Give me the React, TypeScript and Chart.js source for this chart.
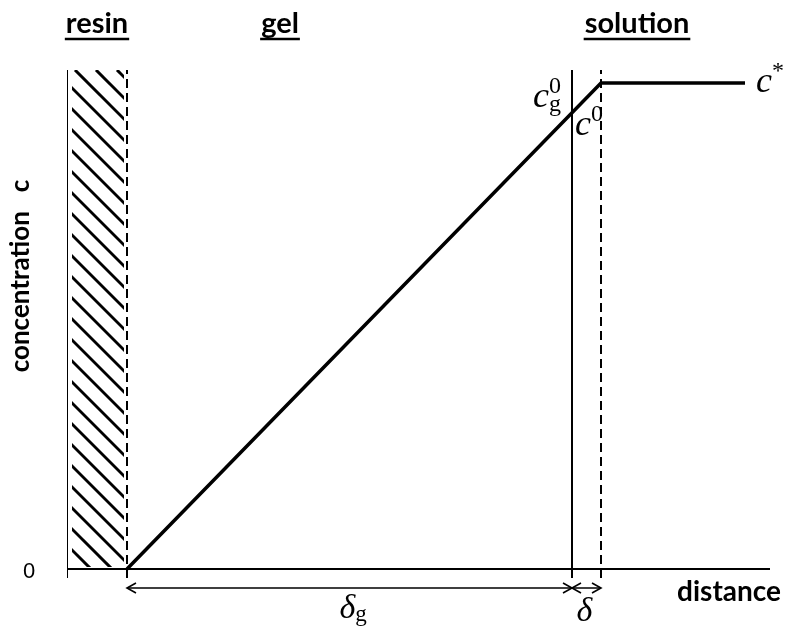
import React, { useEffect, useRef } from "react";
import { Chart, registerables } from "chart.js";

Chart.register(...registerables);

// Distance axis (arbitrary units) and concentration (fraction of c*)
const resinEdge = 6;
const gelEdge = 50.5;
const filmEdge = 53.4;
const xEnd = 70.3;
const profileX = [resinEdge, gelEdge, filmEdge, 67.8];
const profileC = [0, 0.939, 1, 1];
const yMin = -0.0185;
const yMax = 1.027;

const regionLabels = ["resin", "gel", "solution"];
const regionLabelX = [3, 21.3, 57];

const SANS = "Lato, 'Open Sans', sans-serif";
const SERIF = "'Liberation Serif', 'DejaVu Serif', serif";

function arrowHead(ctx: CanvasRenderingContext2D, x: number, y: number, dir: number) {
  ctx.beginPath();
  ctx.moveTo(x - dir * 9, y - 5);
  ctx.lineTo(x, y);
  ctx.lineTo(x - dir * 9, y + 5);
  ctx.stroke();
}

const decorations = {
  id: "decorations",
  afterDatasetsDraw(chart: any) {
    const ctx: CanvasRenderingContext2D = chart.ctx;
    const xs = chart.scales.x;
    const ys = chart.scales.y;
    const px = (v: number) => xs.getPixelForValue(v);
    const py = (v: number) => ys.getPixelForValue(v);

    // hatched resin block
    ctx.save();
    const hx0 = px(0) + 5;
    const hx1 = px(resinEdge) - 3;
    const hy0 = py(yMax);
    const hy1 = py(0) - 2;
    ctx.beginPath();
    ctx.rect(hx0, hy0, hx1 - hx0, hy1 - hy0);
    ctx.clip();
    ctx.strokeStyle = "#000";
    ctx.lineWidth = 3;
    for (let k = -40; k < 40; k++) {
      const sx = hx0 + k * 21 + 3;
      ctx.beginPath();
      ctx.moveTo(sx, hy0);
      ctx.lineTo(sx + 600, hy0 + 600);
      ctx.stroke();
    }
    ctx.restore();

    // dimension arrows under the axis
    ctx.save();
    ctx.strokeStyle = "#000";
    ctx.lineWidth = 1.6;
    const ay = py(0) + 19;
    const a0 = px(resinEdge);
    const a1 = px(gelEdge);
    const a2 = px(filmEdge);
    ctx.beginPath();
    ctx.moveTo(a0, ay);
    ctx.lineTo(a1, ay);
    ctx.moveTo(a1, ay);
    ctx.lineTo(a2, ay);
    ctx.stroke();
    arrowHead(ctx, a0, ay, -1);
    arrowHead(ctx, a1, ay, 1);
    arrowHead(ctx, a1, ay, -1);
    arrowHead(ctx, a2, ay, 1);
    ctx.restore();

    // text
    ctx.save();
    ctx.fillStyle = "#000";
    ctx.strokeStyle = "#000";
    ctx.textBaseline = "alphabetic";

    // region titles, bold and underlined
    ctx.font = `bold 29px ${SANS}`;
    ctx.textAlign = "center";
    regionLabels.forEach((t, i) => {
      const cx = px(regionLabelX[i]);
      ctx.fillText(t, cx, 33);
      const w = ctx.measureText(t).width;
      ctx.lineWidth = 2.5;
      ctx.beginPath();
      ctx.moveTo(cx - w / 2 - 1, 39);
      ctx.lineTo(cx + w / 2 + 1, 39);
      ctx.stroke();
    });

    // axis titles
    ctx.font = `bold 26px ${SANS}`;
    ctx.save();
    ctx.translate(29, 276);
    ctx.rotate(-Math.PI / 2);
    ctx.textAlign = "center";
    ctx.fillText("concentration   c", 0, 0);
    ctx.restore();

    ctx.font = `bold 28px ${SANS}`;
    ctx.textAlign = "right";
    ctx.fillText("distance", 781, 601);

    ctx.font = `22px 'Liberation Sans', sans-serif`;
    ctx.textAlign = "center";
    ctx.fillText("0", 29, 578);

    // symbols
    ctx.textAlign = "left";
    const sym = (base: string, x: number, y: number, sup?: string, sub?: string, size = 36) => {
      ctx.font = `italic ${size}px ${SERIF}`;
      ctx.fillText(base, x, y);
      const w = ctx.measureText(base).width;
      ctx.font = `${Math.round(size * 0.68)}px ${SERIF}`;
      if (sup) ctx.fillText(sup, x + w, y - size * 0.38);
      if (sub) ctx.fillText(sub, x + w, y + size * 0.1);
    };
    sym("c", 533, 107, "0", "g");
    sym("c", px(gelEdge) + 3, 135, "0");
    sym("c", 756, 92, "*");
    sym("δ", px((resinEdge + gelEdge) / 2) - 10, 618, undefined, "g", 34);
    sym("δ", px((gelEdge + filmEdge) / 2) - 10, 621, undefined, undefined, 34);
    ctx.restore();
  },
};

export default function App() {
  const ref = useRef<HTMLCanvasElement>(null);

  useEffect(() => {
    if (!ref.current) return;
    const line = (pts: { x: number; y: number }[], w: number, dash: number[] = []) => ({
      data: pts,
      borderColor: "#000",
      borderWidth: w,
      borderDash: dash,
      pointRadius: 0,
      fill: false,
      tension: 0,
    });
    const vertical = (x: number) => [
      { x, y: yMin },
      { x, y: yMax },
    ];
    const chart = new Chart(ref.current, {
      type: "line",
      data: {
        datasets: [
          line([{ x: 0, y: 0 }, { x: xEnd, y: 0 }], 2),
          line([{ x: 0, y: yMin }, { x: 0, y: yMax }], 2),
          line(vertical(resinEdge), 2, [9, 5]),
          line(vertical(gelEdge), 2),
          line(vertical(filmEdge), 2, [9, 5]),
          line(profileX.map((x, i) => ({ x, y: profileC[i] })), 3.5),
        ] as any,
      },
      options: {
        animation: false,
        responsive: false,
        layout: { padding: { left: 67, right: 16, top: 70, bottom: 56 } },
        scales: {
          x: { type: "linear", min: 0, max: xEnd, display: false },
          y: { type: "linear", min: yMin, max: yMax, display: false },
        },
        plugins: { legend: { display: false }, tooltip: { enabled: false } },
        elements: { line: { borderCapStyle: "butt" } },
      },
      plugins: [decorations],
    });
    return () => chart.destroy();
  }, []);

  return (
    <div style={{ position: "absolute", left: 0, top: 0, width: 786, height: 634, background: "#fff" }}>
      <canvas ref={ref} width={786} height={634} />
    </div>
  );
}
